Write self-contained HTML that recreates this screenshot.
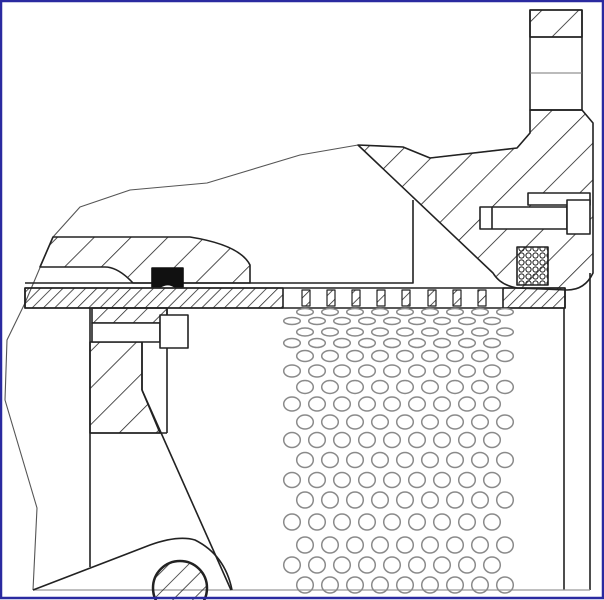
<!DOCTYPE html>
<html><head><meta charset="utf-8"><style>
html,body{margin:0;padding:0;background:#fff}
svg{display:block}
</style></head><body>
<svg width="604" height="600" viewBox="0 0 604 600" xmlns="http://www.w3.org/2000/svg">
<defs>
<pattern id="h1" patternUnits="userSpaceOnUse" width="26" height="26" patternTransform="rotate(45)"><line x1="0" y1="0" x2="0" y2="26" stroke="#222" stroke-width="1.6"/></pattern>
<pattern id="h2" patternUnits="userSpaceOnUse" width="8" height="8" patternTransform="rotate(45)"><line x1="0" y1="0" x2="0" y2="8" stroke="#222" stroke-width="1.5"/></pattern>
<pattern id="h3" patternUnits="userSpaceOnUse" width="14" height="14" patternTransform="rotate(45)"><line x1="0" y1="0" x2="0" y2="14" stroke="#222" stroke-width="1.5"/></pattern>
<pattern id="dots" patternUnits="userSpaceOnUse" width="7" height="7"><circle cx="3.5" cy="3.5" r="2.6" fill="none" stroke="#222" stroke-width="1"/></pattern>
</defs>
<rect x="0" y="0" width="604" height="600" fill="#fff"/>
<g fill="none" stroke="#222" stroke-width="1.6" stroke-linejoin="round">
<!-- outer thin outline -->
<path stroke="#555" stroke-width="1.1" d="M530,110 L530,133 L517,148 L430,158 L403,147 L358,145 L300,155 L207,183 L130,190 L80,207 L53,237 L25,303 L7,340 L5,400 L37,508 L33,590"/>
<!-- top flange -->
<g>
<rect x="530" y="10" width="52" height="27" fill="url(#h1)"/>
<rect x="530" y="10" width="52" height="100"/>
<line x1="530" y1="37" x2="582" y2="37"/>
<line x1="530" y1="73" x2="582" y2="73" stroke="#777" stroke-width="1"/>
<line x1="530" y1="110" x2="582" y2="110"/>
</g>
<!-- main body -->
<path fill="url(#h1)" d="M358,145 L403,147 L430,158 L517,148 L530,133 L530,110 L582,110 L593,123 L593,273 Q585,290 567,290 L517,288 Q500,285 493,273 Z"/>
<path d="M413,200 L413,283 L25,283"/>
<!-- right bolt -->
<g>
<rect x="528" y="193" width="62" height="12" fill="#fff"/>
<rect x="480" y="207" width="87" height="22" fill="#fff"/>
<rect x="567" y="200" width="23" height="34" fill="#fff"/>
<line x1="492" y1="207" x2="492" y2="229"/>
</g>
<rect x="517" y="247" width="31" height="38" fill="url(#dots)"/>
<!-- upper left housing -->
<path fill="url(#h1)" d="M53,237 L190,237 Q240,245 250,265 L250,283 L133,283 Q118,267 105,267 L40,267 Z"/>
<path fill="#111" stroke="#111" d="M152,268 L183,268 L183,287 L175,287 Q168,282 160,287 L152,287 Z"/>
<!-- pipe -->
<g>
<rect x="25" y="288" width="258" height="20" fill="url(#h2)"/>
<rect x="503" y="288" width="62" height="20" fill="url(#h2)"/>
<rect x="25" y="288" width="540" height="20"/>
<g id="perfs" fill="url(#h2)" stroke-width="1.2"></g>
</g>
<!-- right vertical lines -->
<line x1="564" y1="308" x2="564" y2="590"/>
<line x1="590" y1="273" x2="590" y2="590"/>
<line x1="33" y1="590" x2="590" y2="590" stroke="#999" stroke-width="1.2"/>
<!-- lower left block -->
<g>
<path fill="url(#h1)" d="M90,342 L142,342 L142,390 L160,433 L90,433 Z"/>
<path fill="url(#h3)" d="M92,308 L167,308 L167,323 L92,323 Z"/>
<line x1="90" y1="308" x2="90" y2="567"/>
<line x1="167" y1="308" x2="167" y2="433"/>
<line x1="142" y1="342" x2="142" y2="390"/>
<line x1="90" y1="433" x2="167" y2="433"/>
<line x1="142" y1="390" x2="231" y2="590"/>
<rect x="92" y="323" width="68" height="19" fill="#fff"/>
<rect x="160" y="315" width="28" height="33" fill="#fff"/>
</g>
<!-- lever -->
<path d="M33,590 L150,545 Q178,535 195,540 Q225,555 232,590"/>
<circle cx="180" cy="588" r="27" fill="url(#h3)" stroke-width="2.5"/>
</g>
<g id="holes" fill="none" stroke="#8a8a8a" stroke-width="1.5"></g>
<rect x="1" y="1" width="602" height="597" fill="none" stroke="#2a2aa0" stroke-width="2.5"/>
<script>
const rowY = [312,321,332,343,356,371,387,404,422,440,460,480,500,522,545,565,585];
const rowRy = [3.5,3.5,4,4.5,5.5,6,6.5,7,7,7.5,7.5,7.5,8,8,8,8,8];
const rowOffset = [1,0,1,0,1,0,1,0,1,0,1,0,1,0,1,0,1];
const perfX = [302,327,352,377,402,428,453,478];
const NS='http://www.w3.org/2000/svg';
const holes=document.getElementById('holes');
rowY.forEach((y,i)=>{
  const x0 = rowOffset[i] ? 305 : 292;
  for(let k=0;k<9;k++){
    const e=document.createElementNS(NS,'ellipse');
    e.setAttribute('cx',x0+25*k);
    e.setAttribute('cy',y);
    e.setAttribute('rx',8.3);
    e.setAttribute('ry',rowRy[i]);
    
    
    holes.appendChild(e);
  }
});
const perfs=document.getElementById('perfs');
perfX.forEach(x=>{
  const r=document.createElementNS(NS,'rect');
  r.setAttribute('x',x);r.setAttribute('y',290);r.setAttribute('width',8);r.setAttribute('height',16);
  
  
  perfs.appendChild(r);
});
</script>
</svg>
</body></html>
